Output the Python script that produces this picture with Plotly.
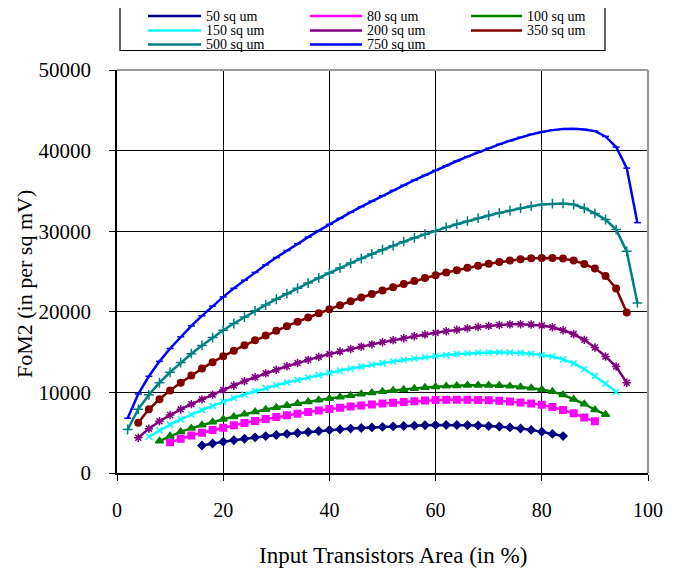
import plotly.graph_objects as go

# ---------------- data ----------------
AREA_PCT = [2, 4, 6, 8, 10, 12, 14, 16, 18, 20, 22, 24, 26, 28, 30, 32, 34, 36, 38, 40,
            42, 44, 46, 48, 50, 52, 54, 56, 58, 60, 62, 64, 66, 68, 70, 72, 74, 76, 78, 80,
            82, 84, 86, 88, 90, 92, 94, 96, 98]

SERIES_NAMES = ["50 sq um", "80 sq um", "100 sq um", "150 sq um",
                "200 sq um", "350 sq um", "500 sq um", "750 sq um"]
SERIES_START = [16, 10, 8, 6, 4, 4, 2, 2]

FOM_50 = [3420, 3670, 3880, 4070, 4250, 4420, 4580, 4720, 4850, 4970, 5090, 5210, 5330,
          5420, 5510, 5590, 5660, 5720, 5780, 5830, 5880, 5920, 5950, 5960, 5960, 5940,
          5900, 5840, 5760, 5660, 5530, 5350, 5120, 4850, 4580]
FOM_80 = [3800, 4260, 4660, 5005, 5325, 5620, 5920, 6200, 6460, 6705, 6935, 7155, 7365,
          7560, 7750, 7930, 8090, 8240, 8378, 8505, 8621, 8726, 8821, 8906, 8981, 9050,
          9090, 9100, 9090, 9060, 9020, 8950, 8860, 8750, 8620, 8470, 8180, 7830, 7400,
          6900, 6410]
FOM_100 = [3970, 4590, 5110, 5560, 5950, 6320, 6660, 6990, 7305, 7600, 7875, 8135, 8385,
           8625, 8850, 9060, 9250, 9440, 9620, 9790, 9950, 10100, 10240, 10370, 10490,
           10600, 10700, 10780, 10840, 10880, 10900, 10890, 10850, 10780, 10680, 10540,
           10370, 10100, 9700, 9150, 8560, 7850, 7250]
FOM_150 = [4500, 5300, 6000, 6650, 7250, 7800, 8330, 8840, 9310, 9745, 10150, 10530,
           10885, 11220, 11535, 11840, 12140, 12430, 12700, 12955, 13195, 13420, 13630,
           13830, 14020, 14200, 14365, 14520, 14650, 14760, 14850, 14920, 14960, 14970,
           14950, 14890, 14790, 14650, 14450, 14100, 13600, 12900, 12050, 11100, 10050]
FOM_200 = [4380, 5500, 6420, 7200, 7900, 8540, 9140, 9720, 10290, 10860, 11390, 11890,
           12360, 12810, 13240, 13650, 14040, 14405, 14750, 15075, 15385, 15680, 15960,
           16225, 16480, 16725, 16960, 17180, 17390, 17590, 17775, 17945, 18105, 18250,
           18370, 18440, 18460, 18420, 18300, 18080, 17720, 17230, 16520, 15570, 14450,
           13200, 11190]
FOM_350 = [6250, 7900, 9150, 10250, 11200, 12100, 12950, 13750, 14500, 15180, 15840,
           16460, 17070, 17650, 18220, 18770, 19300, 19820, 20320, 20820, 21305, 21770,
           22215, 22640, 23050, 23440, 23815, 24180, 24540, 24870, 25170, 25450, 25710,
           25950, 26170, 26360, 26520, 26630, 26680, 26680, 26600, 26350, 25940, 25370,
           24450, 22890, 19910]
FOM_500 = [5400, 7900, 9700, 11200, 12500, 13700, 14800, 15830, 16800, 17720, 18550,
           19350, 20115, 20850, 21560, 22250, 22920, 23570, 24200, 24820, 25440, 26040,
           26615, 27170, 27700, 28210, 28700, 29170, 29620, 30050, 30470, 30870, 31250,
           31610, 31950, 32270, 32570, 32850, 33100, 33300, 33420, 33450, 33300, 32850,
           32200, 31450, 30200, 27500, 21100]
FOM_750 = [6800, 9800, 12000, 13850, 15450, 16900, 18250, 19500, 20700, 21850, 22910,
           23920, 24890, 25830, 26730, 27610, 28450, 29270, 30070, 30850, 31600, 32330,
           33040, 33730, 34400, 35060, 35700, 36330, 36950, 37550, 38140, 38710, 39260,
           39790, 40300, 40780, 41230, 41650, 42010, 42300, 42540, 42670, 42700, 42630,
           42420, 41760, 40440, 37830, 31060]

SERIES_VALUES = [FOM_50, FOM_80, FOM_100, FOM_150, FOM_200, FOM_350, FOM_500, FOM_750]

X_TICKS = [0, 20, 40, 60, 80, 100]
Y_TICKS = [0, 10000, 20000, 30000, 40000, 50000]

# ---------------- styles ----------------
COLORS = ["#000080", "#FF00FF", "#008000", "#00FFFF", "#800080", "#800000", "#008080", "#0000FF"]
SYMBOLS = ["diamond", "square", "triangle-up", "x-thin-open", "asterisk-open",
           "circle", "cross-thin-open", "line-ew-open"]
SIZES = [6, 6.5, 7, 6, 7, 6.5, 7, 5]

FONT = "Liberation Serif"
OFF = 8                      # page body margin of the browser
PAGE_W, PAGE_H = 681, 569
W, H = PAGE_W - OFF, PAGE_H - OFF
# plot area in page pixels: left 117, right 648, top 70, bottom 473
L = 117 - OFF
T = 70 - OFF
R = PAGE_W - 648
B = PAGE_H - 473
PW = W - L - R
PH = H - T - B


def pxx(p):
    """page x pixel -> paper coordinate"""
    return (p - OFF - L) / PW


def pxy(p):
    """page y pixel -> paper coordinate"""
    return (T + PH - (p - OFF)) / PH


fig = go.Figure()

for name, start, vals, col, sym, sz in zip(SERIES_NAMES, SERIES_START, SERIES_VALUES,
                                           COLORS, SYMBOLS, SIZES):
    i0 = AREA_PCT.index(start)
    xs = AREA_PCT[i0:i0 + len(vals)]
    fig.add_trace(go.Scatter(
        x=xs, y=vals, name=name, mode="lines+markers",
        line=dict(color=col, width=2.5),
        marker=dict(symbol=sym, size=sz, color=col, line=dict(color=col, width=1.5)),
        showlegend=False,
    ))

# ---------------- hand-drawn legend (layout only) ----------------
LEG_ROWS = [16, 30.5, 44.5]
LEG_COLS = [(148, 201), (310, 362), (471, 522)]
shapes = []
annotations = []
for k, (name, col, sym, sz) in enumerate(zip(SERIES_NAMES, COLORS, SYMBOLS, SIZES)):
    r, c = divmod(k, 3)
    x0, x1 = LEG_COLS[c]
    yy = LEG_ROWS[r]
    shapes.append(dict(type="line", xref="paper", yref="paper",
                       x0=pxx(x0), x1=pxx(x1), y0=pxy(yy), y1=pxy(yy),
                       line=dict(color=col, width=2.5)))
    annotations.append(dict(xref="paper", yref="paper", x=pxx(x1 + 3), y=pxy(yy),
                            xanchor="left", yanchor="middle", showarrow=False,
                            text=name, font=dict(family=FONT, size=14, color="black")))
    fig.add_trace(go.Scatter(
        x=[(x0 + x1) / 2 - OFF], y=[yy - OFF], xaxis="x2", yaxis="y2", mode="markers",
        marker=dict(symbol=sym, size=sz, color=col, line=dict(color=col, width=1.5)),
        cliponaxis=False, showlegend=False, hoverinfo="skip",
    ))

# legend box
shapes.append(dict(type="rect", xref="paper", yref="paper",
                   x0=pxx(120), x1=pxx(605), y0=pxy(50.5), y1=pxy(-3),
                   line=dict(color="black", width=1.2), fillcolor="rgba(0,0,0,0)"))
# grey plot-area border (top and right)
shapes.append(dict(type="line", xref="paper", yref="paper", x0=0, x1=1, y0=1, y1=1,
                   line=dict(color="#9a9a9a", width=2.2), layer="above"))
shapes.append(dict(type="line", xref="paper", yref="paper", x0=1, x1=1, y0=0, y1=1,
                   line=dict(color="#9a9a9a", width=2.2), layer="above"))

# axis titles
annotations.append(dict(xref="paper", yref="paper", x=pxx(393), y=pxy(555),
                        xanchor="center", yanchor="middle", showarrow=False,
                        text="Input Transistors Area (in %)",
                        font=dict(family=FONT, size=23, color="black")))
annotations.append(dict(xref="paper", yref="paper", x=pxx(24), y=pxy(284),
                        xanchor="center", yanchor="middle", showarrow=False, textangle=-90,
                        text="FoM2 (in per sq mV)",
                        font=dict(family=FONT, size=22, color="black")))

axis_common = dict(
    showgrid=True, gridcolor="black", gridwidth=1.3,
    showline=True, linecolor="black", linewidth=1.5,
    ticks="outside", ticklen=6, tickcolor="black", tickwidth=1.3,
    zeroline=False, mirror=False,
)

fig.update_layout(
    width=W, height=H, autosize=False,
    margin=dict(l=L, r=R, t=T, b=B, pad=0),
    paper_bgcolor="white", plot_bgcolor="white",
    showlegend=False,
    xaxis=dict(range=[0, 100], tickvals=X_TICKS, ticklabelstandoff=12,
               tickfont=dict(family=FONT, size=20, color="black"), **axis_common),
    yaxis=dict(range=[0, 50000], tickvals=Y_TICKS, tickformat="d", ticklabelstandoff=14,
               tickfont=dict(family=FONT, size=21, color="black"), **axis_common),
    xaxis2=dict(overlaying="x", range=[L, L + PW], visible=False, fixedrange=True),
    yaxis2=dict(overlaying="y", range=[T + PH, T], visible=False, fixedrange=True),
    shapes=shapes,
    annotations=annotations,
)

fig.write_html("out.html")
